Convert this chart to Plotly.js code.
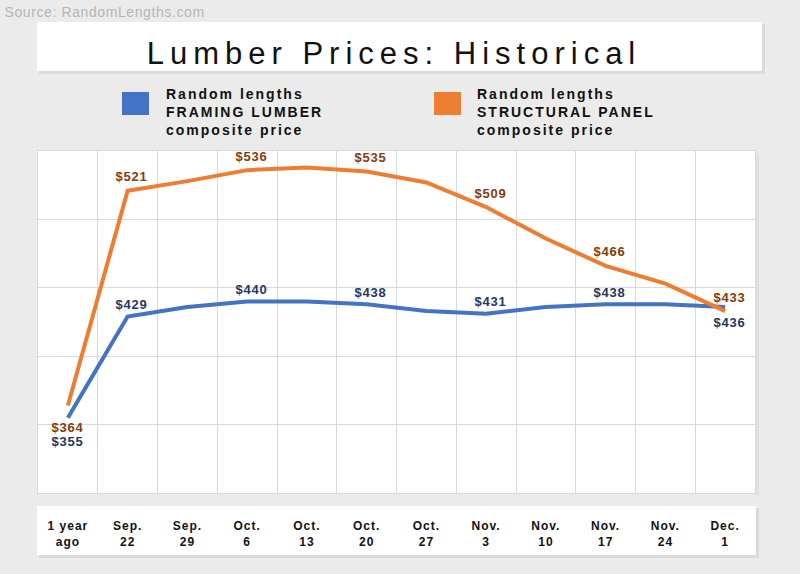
<!DOCTYPE html>
<html><head><meta charset="utf-8">
<script src="https://cdn.plot.ly/plotly-3.0.1.min.js"></script>
<style>html,body{margin:0;padding:0;background:#ebebeb;}</style>
</head><body><div id="chart" style="width:800px;height:574px;"></div>
<script>
// ---- data ----
const categories = ['1 year<br>ago','Sep.<br>22','Sep.<br>29','Oct.<br>6','Oct.<br>13','Oct.<br>20','Oct.<br>27','Nov.<br>3','Nov.<br>10','Nov.<br>17','Nov.<br>24','Dec.<br>1'];
const framingLumber = [355,429,436,440,440,438,433,431,436,438,438,436];
const structuralPanel = [364,521,528,536,538,535,527,509,486,466,453,433];
const labeledIdx = [0,1,3,5,7,9,11];
const seriesNames = ['Random lengths<br>FRAMING LUMBER<br>composite price','Random lengths<br>STRUCTURAL PANEL<br>composite price'];

// ---- layout helpers (pixel -> paper) ----
const L = 38, R = 45, T = 151, B = 81, W = 800, H = 574;
const PW = W - L - R, PH = H - T - B;
const px = x => (x - L) / PW;
const py = y => (H - B - y) / PH;
const FONT = 'Liberation Sans, Arial, sans-serif';
const BLUE = '#4472C4', ORANGE = '#ED7D31';
const BLUE_TXT = '#1F3864', ORANGE_TXT = '#843C0C';

function rect(x0, y0, x1, y1, fill) {
  return {type:'rect', xref:'paper', yref:'paper', x0:px(x0), x1:px(x1), y0:py(y1), y1:py(y0),
          fillcolor:fill, line:{width:0}, layer:'below'};
}

const shapes = [
  rect(39, 24, 765, 74, 'rgba(0,0,0,0.07)'),
  rect(37, 22, 762, 71, '#ffffff'),
  rect(755.5, 153, 759, 495, 'rgba(0,0,0,0.05)'),
  rect(39, 508, 759, 558, 'rgba(0,0,0,0.07)'),
  rect(37, 506, 756, 555, '#ffffff'),
  {type:'rect', xref:'paper', yref:'paper', x0:px(122), x1:px(149), y0:py(115), y1:py(92), fillcolor:BLUE, line:{width:0}},
  {type:'rect', xref:'paper', yref:'paper', x0:px(434), x1:px(461), y0:py(115), y1:py(92), fillcolor:ORANGE, line:{width:0}}
];

const spacing = []; // letter spacing per annotation index
const annotations = [];
function addAnn(a, ls) { annotations.push(a); spacing.push(ls); }

addAnn({xref:'paper', yref:'paper', x:px(10), y:py(12), xanchor:'left', yanchor:'middle', showarrow:false,
   text:'Source: RandomLengths.com', font:{family:FONT, size:14, color:'#b5b5b5'}}, '0.6px');
addAnn({xref:'paper', yref:'paper', x:px(164), y:py(112), xanchor:'left', yanchor:'middle', align:'left', showarrow:false,
   text:seriesNames[0], font:{family:FONT, size:14, color:'#111', weight:'bold'}}, '2px');
addAnn({xref:'paper', yref:'paper', x:px(475), y:py(112), xanchor:'left', yanchor:'middle', align:'left', showarrow:false,
   text:seriesNames[1], font:{family:FONT, size:14, color:'#111', weight:'bold'}}, '2px');

labeledIdx.forEach(i => {
  const last = i === categories.length - 1;
  const first = i === 0;
  addAnn({x:categories[i], y:structuralPanel[i], text:'$' + structuralPanel[i], showarrow:false,
    xshift: first ? 0 : 4, yshift: first ? -22 : 14, yanchor:'middle',
    font:{family:FONT, size:13, color:ORANGE_TXT, weight:'bold'}}, '0.8px');
  addAnn({x:categories[i], y:framingLumber[i], text:'$' + framingLumber[i], showarrow:false,
    xshift: first ? 0 : 4, yshift: (first ? -24 : (last ? -16 : 12)), yanchor:'middle',
    font:{family:FONT, size:13, color:BLUE_TXT, weight:'bold'}}, '0.8px');
});

const traces = [
  {type:'scatter', mode:'lines', x:categories, y:framingLumber, name:'Framing lumber',
   line:{color:BLUE, width:4}, hoverinfo:'y'},
  {type:'scatter', mode:'lines', x:categories, y:structuralPanel, name:'Structural panel',
   line:{color:ORANGE, width:4}, hoverinfo:'y'}
];

const layout = {
  width:W, height:H,
  margin:{l:L, r:R, t:T, b:B, pad:0},
  paper_bgcolor:'#ebebeb', plot_bgcolor:'#ffffff',
  showlegend:false,
  title:{text:'Lumber Prices: Historical', xref:'container', yref:'container', x:394/W, y:1 - 53/H,
         xanchor:'center', yanchor:'middle', font:{family:FONT, size:31, color:'#111'}},
  xaxis:{type:'category', range:[-0.5, 11.5], autorange:false, tickson:'boundaries', showgrid:true, gridcolor:'#d9d9d9', gridwidth:1,
         showline:true, linecolor:'#d9d9d9', mirror:true, zeroline:false,
         ticks:'', ticklabelstandoff:22,
         tickfont:{family:FONT, size:12, color:'#111', weight:'bold'}, fixedrange:true},
  yaxis:{range:[300,550], dtick:50, tick0:300, showgrid:true, gridcolor:'#d9d9d9', gridwidth:1,
         showline:true, linecolor:'#d9d9d9', mirror:true, zeroline:false, showticklabels:false, ticks:'', fixedrange:true},
  shapes:shapes, annotations:annotations
};

Plotly.newPlot('chart', traces, layout, {displayModeBar:false, staticPlot:true}).then(() => {
  const t = document.querySelector('.gtitle');
  if (t) { t.style.letterSpacing = '6px'; }
  document.querySelectorAll('.xtick text').forEach(e => { e.style.letterSpacing = '1px'; });
  document.querySelectorAll('.annotation').forEach(g => {
    const idx = +g.getAttribute('data-index');
    const tx = g.querySelector('text');
    if (tx && spacing[idx]) tx.style.letterSpacing = spacing[idx];
  });
});
</script></body></html>
